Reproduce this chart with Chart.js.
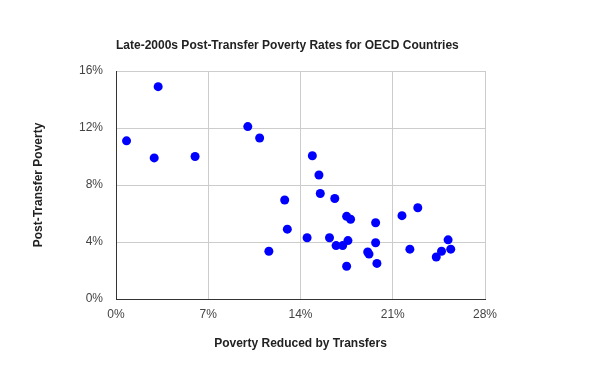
<!DOCTYPE html>
<html lang="en">
<head>
    <meta charset="UTF-8">
    <title>Late-2000s Post-Transfer Poverty Rates for OECD Countries</title>
    <script src="https://cdn.jsdelivr.net/npm/chart.js@4.4.0/dist/chart.umd.min.js"></script>
    <style>
        body { margin: 0; background: #fff; }
        canvas { display: block; }
    </style>
</head>
<body>
    <canvas id="chart" width="600" height="371"></canvas>

    <script>
        // poverty reduced by transfers (%), one per country
        const reduced = [0.8, 3.2, 2.9, 6.0, 10.0, 10.9, 12.8, 13.0, 11.6, 14.5,
                         14.9, 15.4, 15.5, 16.6, 16.2, 16.7, 17.2, 17.6, 17.5, 17.8,
                         17.5, 19.7, 19.7, 19.1, 19.2, 19.8, 21.7, 22.9, 22.3, 24.3,
                         24.7, 25.2, 25.4];
        // post-transfer poverty rate (%)
        const poverty = [11.1, 14.9, 9.9, 10.0, 12.1, 11.3, 6.95, 4.9, 3.35, 4.3,
                         10.05, 8.7, 7.4, 7.05, 4.3, 3.75, 3.75, 4.1, 5.8, 5.6,
                         2.3, 5.35, 3.95, 3.3, 3.15, 2.5, 5.85, 6.4, 3.5, 2.95,
                         3.35, 4.15, 3.5];

        const xTicks = [0, 7, 14, 21, 28];
        const yTicks = [0, 4, 8, 12, 16];

        const points = reduced.map((x, i) => ({ x: x, y: poverty[i] }));
        const pct = v => v + '%';

        const labels = {
            id: 'labels',
            afterDraw(chart) {
                const ctx = chart.ctx, a = chart.chartArea;
                ctx.save();
                ctx.fillStyle = '#222';
                ctx.font = 'bold 12px "Liberation Sans", Arial, sans-serif';
                ctx.textBaseline = 'middle';
                ctx.textAlign = 'left';
                ctx.fillText('Late-2000s Post-Transfer Poverty Rates for OECD Countries', a.left, 46);
                ctx.textAlign = 'center';
                ctx.fillText('Poverty Reduced by Transfers', (a.left + a.right) / 2, 344);
                ctx.translate(39, (a.top + a.bottom) / 2);
                ctx.rotate(-Math.PI / 2);
                ctx.fillText('Post-Transfer Poverty', 0, 0);
                ctx.restore();
            }
        };

        new Chart(document.getElementById('chart'), {
            type: 'scatter',
            data: {
                datasets: [{
                    data: points,
                    backgroundColor: '#0000ff',
                    borderWidth: 0,
                    pointRadius: 4.5,
                    pointHoverRadius: 4.5
                }]
            },
            options: {
                responsive: false,
                animation: false,
                layout: { padding: { left: 0, right: 115, top: 71, bottom: 0 } },
                plugins: {
                    legend: { display: false },
                    tooltip: { enabled: false }
                },
                scales: {
                    x: {
                        type: 'linear',
                        min: 0, max: 28,
                        afterBuildTicks: s => { s.ticks = xTicks.map(v => ({ value: v })); },
                        afterFit: s => { s.height = 72; },
                        grid: { color: '#ccc', drawTicks: false },
                        border: { color: '#333', width: 1 },
                        ticks: {
                            callback: pct, padding: 8, color: '#444', maxRotation: 0,
                            font: { family: '"Liberation Sans", Arial, sans-serif', size: 12 }
                        }
                    },
                    y: {
                        type: 'linear',
                        min: 0, max: 16,
                        afterBuildTicks: s => { s.ticks = yTicks.map(v => ({ value: v })); },
                        afterFit: s => { s.width = 116; },
                        grid: { color: '#ccc', drawTicks: false },
                        border: { color: '#333', width: 1 },
                        ticks: {
                            callback: pct, padding: 13, color: '#444',
                            font: { family: '"Liberation Sans", Arial, sans-serif', size: 12 }
                        }
                    }
                }
            },
            plugins: [labels]
        });
    </script>
</body>
</html>
